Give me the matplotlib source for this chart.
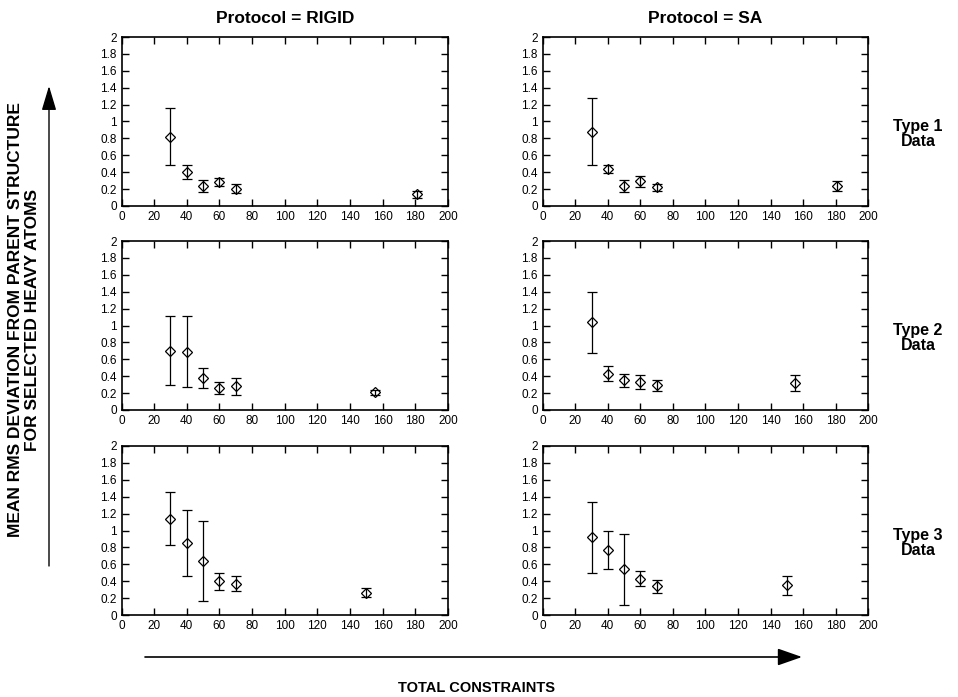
import numpy as np
import matplotlib
matplotlib.use('Agg')
import matplotlib.pyplot as plt
import matplotlib.ticker as ticker

# columnas = protocolo, filas = tipo de datos
protocolos = ['RIGID', 'SA']
tipos = ['Type 1\nData', 'Type 2\nData', 'Type 3\nData']

x_t1 = [30, 40, 50, 60, 70, 181]
x_t2 = [30, 40, 50, 60, 70, 155]
x_t3 = [30, 40, 50, 60, 70, 150]

# RIGID
rig_t1 = [0.82, 0.40, 0.24, 0.28, 0.20, 0.14]
rig_t1_lo = [0.48, 0.32, 0.17, 0.24, 0.15, 0.10]
rig_t1_hi = [1.16, 0.48, 0.31, 0.33, 0.26, 0.18]

rig_t2 = [0.70, 0.69, 0.38, 0.26, 0.28, 0.21]
rig_t2_lo = [0.29, 0.27, 0.26, 0.19, 0.18, 0.18]
rig_t2_hi = [1.11, 1.11, 0.50, 0.33, 0.38, 0.24]

rig_t3 = [1.14, 0.85, 0.64, 0.40, 0.37, 0.26]
rig_t3_lo = [0.83, 0.46, 0.17, 0.30, 0.28, 0.21]
rig_t3_hi = [1.45, 1.24, 1.11, 0.50, 0.46, 0.32]

# SA
sa_t1 = [0.88, 0.44, 0.24, 0.29, 0.22, 0.24]
sa_t1_lo = [0.48, 0.39, 0.17, 0.22, 0.18, 0.18]
sa_t1_hi = [1.28, 0.49, 0.31, 0.36, 0.26, 0.30]

sa_t2 = [1.04, 0.43, 0.35, 0.33, 0.29, 0.32]
sa_t2_lo = [0.68, 0.34, 0.27, 0.25, 0.22, 0.23]
sa_t2_hi = [1.40, 0.52, 0.43, 0.41, 0.36, 0.42]

sa_t3 = [0.92, 0.77, 0.54, 0.43, 0.34, 0.35]
sa_t3_lo = [0.50, 0.54, 0.12, 0.34, 0.26, 0.24]
sa_t3_hi = [1.34, 1.00, 0.96, 0.52, 0.42, 0.46]

datos = [
    [(x_t1, rig_t1, rig_t1_lo, rig_t1_hi), (x_t1, sa_t1, sa_t1_lo, sa_t1_hi)],
    [(x_t2, rig_t2, rig_t2_lo, rig_t2_hi), (x_t2, sa_t2, sa_t2_lo, sa_t2_hi)],
    [(x_t3, rig_t3, rig_t3_lo, rig_t3_hi), (x_t3, sa_t3, sa_t3_lo, sa_t3_hi)],
]

#########################
##------GRAFICA--------##
#########################

plt.rcParams['font.family'] = ['Liberation Sans', 'DejaVu Sans']

fig = plt.figure(figsize=[9.58, 6.97], dpi=100)

W, H = 958., 697.
col_left = [121.5, 542.7]
col_width = [326.5, 325.5]
row_top = [37., 241., 446.]
row_h = 169.

for i in range(3):
    for j in range(2):
        ax = fig.add_axes([col_left[j] / W, 1 - (row_top[i] + row_h) / H, col_width[j] / W, row_h / H])
        x, y, lo, hi = datos[i][j]
        x = np.array(x)
        y = np.array(y)
        yerr = [y - np.array(lo), np.array(hi) - y]
        ax.errorbar(x, y, yerr=yerr, fmt='D', markersize=5.5, mfc='none', mec='black', mew=0.9,
                    ecolor='black', elinewidth=0.9, capsize=3.5, capthick=0.9, color='black')
        ax.set_xlim(0, 200)
        ax.set_ylim(0, 2)
        ax.xaxis.set_major_locator(ticker.MultipleLocator(20))
        ax.yaxis.set_major_locator(ticker.MultipleLocator(0.2))
        ax.yaxis.set_major_formatter(ticker.FuncFormatter(lambda v, p: '%g' % round(v, 2)))
        ax.tick_params(direction='in', top=True, right=True, length=5, width=1, labelsize=8.5, pad=3.5)
        for s in ax.spines.values():
            s.set_linewidth(1.2)
        if i == 0:
            ax.set_title(u'Protocol = ' + protocolos[j], fontsize=12.5, fontweight='bold', pad=10)

# etiquetas de filas
for i in range(3):
    fig.text(918 / W, 1 - (row_top[i] + 97) / H, tipos[i], ha='center', va='center',
             fontsize=11.5, fontweight='bold', linespacing=0.95)

# eje y comun
fig.text(24 / W, 1 - 320 / H, 'MEAN RMS DEVIATION FROM PARENT STRUCTURE\nFOR SELECTED HEAVY ATOMS',
         rotation=90, ha='center', va='center', fontsize=12.5, fontweight='bold', linespacing=1.1,
         multialignment='center')
plt.annotate('', xy=(49 / W, 1 - 86 / H), xytext=(49 / W, 1 - 566 / H), xycoords='figure fraction',
             textcoords='figure fraction',
             arrowprops=dict(arrowstyle='-|>,head_length=1.0,head_width=0.3', mutation_scale=15,
                             color='black', lw=1, shrinkA=0, shrinkB=0))

# eje x comun
plt.annotate('', xy=(802 / W, 1 - 657 / H), xytext=(145 / W, 1 - 657 / H), xycoords='figure fraction',
             textcoords='figure fraction',
             arrowprops=dict(arrowstyle='-|>,head_length=1.0,head_width=0.35', mutation_scale=15,
                             color='black', lw=1.2, shrinkA=0, shrinkB=0))
fig.text(477 / W, 1 - 688 / H, 'TOTAL CONSTRAINTS', ha='center', va='center', fontsize=10.5, fontweight='bold')

plt.savefig('out.png', dpi=100)
